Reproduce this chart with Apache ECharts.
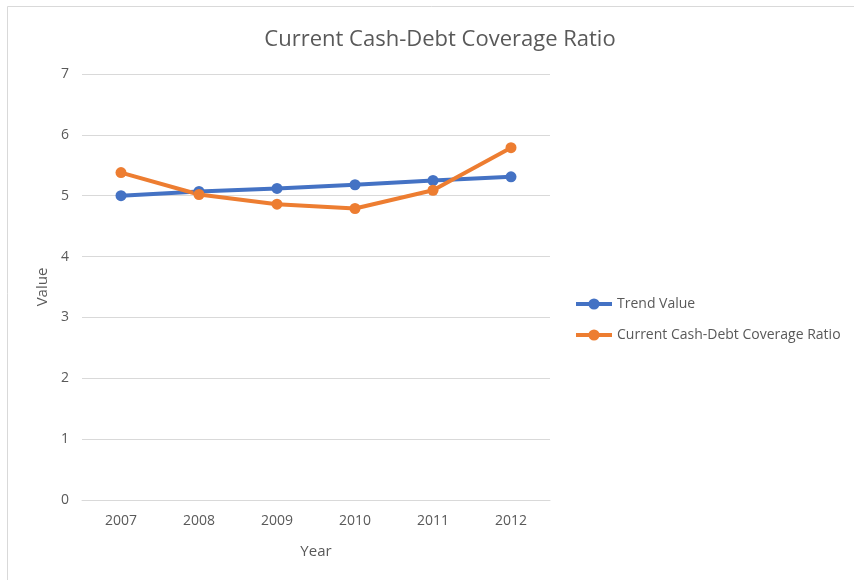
<!DOCTYPE html>
<html>
<head>
<meta charset="utf-8">
<script src="https://cdn.jsdelivr.net/npm/echarts@6/dist/echarts.min.js"></script>
<style>
  html, body { margin: 0; padding: 0; background: #fff; }
  #chart { width: 854px; height: 580px; }
</style>
</head>
<body>
<div id="chart"></div>
<script>
// Years on the category axis
const years = ['2007', '2008', '2009', '2010', '2011', '2012'];
// Linear trend fitted to the ratio
const trendValue = [5.00, 5.07, 5.12, 5.18, 5.25, 5.31];
// Current cash-debt coverage ratio per year
const coverageRatio = [5.38, 5.02, 4.86, 4.79, 5.09, 5.79];
// Value axis ticks
const yTicks = [0, 1, 2, 3, 4, 5, 6, 7];

const FONT = '"Open Sans", "Liberation Sans", sans-serif';
const TEXT = '#595959';
const GRID = '#d9d9d9';

const chart = echarts.init(document.getElementById('chart'), null, { renderer: 'canvas' });

function lineSeries(name, data, color) {
  return {
    name: name,
    type: 'line',
    data: data,
    symbol: 'circle',
    symbolSize: 11,
    lineStyle: { color: color, width: 4 },
    itemStyle: { color: color },
    emphasis: { disabled: true },
    animation: false
  };
}

chart.setOption({
  backgroundColor: '#fff',
  graphic: [{
    type: 'rect',
    shape: { x: 7.5, y: 6.5, width: 900, height: 600 },
    style: { fill: 'none', stroke: '#d9d9d9', lineWidth: 1 },
    silent: true,
    z: -1
  }],
  title: {
    text: 'Current Cash-Debt Coverage Ratio',
    left: 435,
    top: 24,
    textAlign: 'center',
    textStyle: { color: TEXT, fontFamily: FONT, fontSize: 22, fontWeight: 'normal' }
  },
  legend: {
    orient: 'vertical',
    left: 569,
    top: 292,
    itemGap: 17,
    itemWidth: 36,
    itemHeight: 14,
    lineStyle: { width: 4 },
    textStyle: { color: TEXT, fontFamily: FONT, fontSize: 14 },
    data: [
      { name: 'Trend Value' },
      { name: 'Current Cash-Debt Coverage Ratio' }
    ]
  },
  grid: { left: 82, right: 304, top: 74, bottom: 80, containLabel: false },
  xAxis: {
    type: 'category',
    data: years,
    boundaryGap: true,
    name: 'Year',
    nameLocation: 'middle',
    nameGap: 44,
    nameTextStyle: { color: TEXT, fontFamily: FONT, fontSize: 15 },
    axisLine: { show: true, lineStyle: { color: GRID, width: 1 } },
    axisTick: { show: false },
    axisLabel: { color: TEXT, fontFamily: FONT, fontSize: 14, margin: 14 }
  },
  yAxis: {
    type: 'value',
    min: yTicks[0],
    max: yTicks[yTicks.length - 1],
    interval: 1,
    name: 'Value',
    nameLocation: 'middle',
    nameGap: 28,
    nameTextStyle: { color: TEXT, fontFamily: FONT, fontSize: 15 },
    axisLine: { show: false },
    axisTick: { show: false },
    splitLine: { lineStyle: { color: GRID, width: 1 } },
    axisLabel: { color: TEXT, fontFamily: FONT, fontSize: 14, margin: 13 }
  },
  series: [
    lineSeries('Trend Value', trendValue, '#4472C4'),
    lineSeries('Current Cash-Debt Coverage Ratio', coverageRatio, '#ED7D31')
  ]
});
</script>
</body>
</html>
